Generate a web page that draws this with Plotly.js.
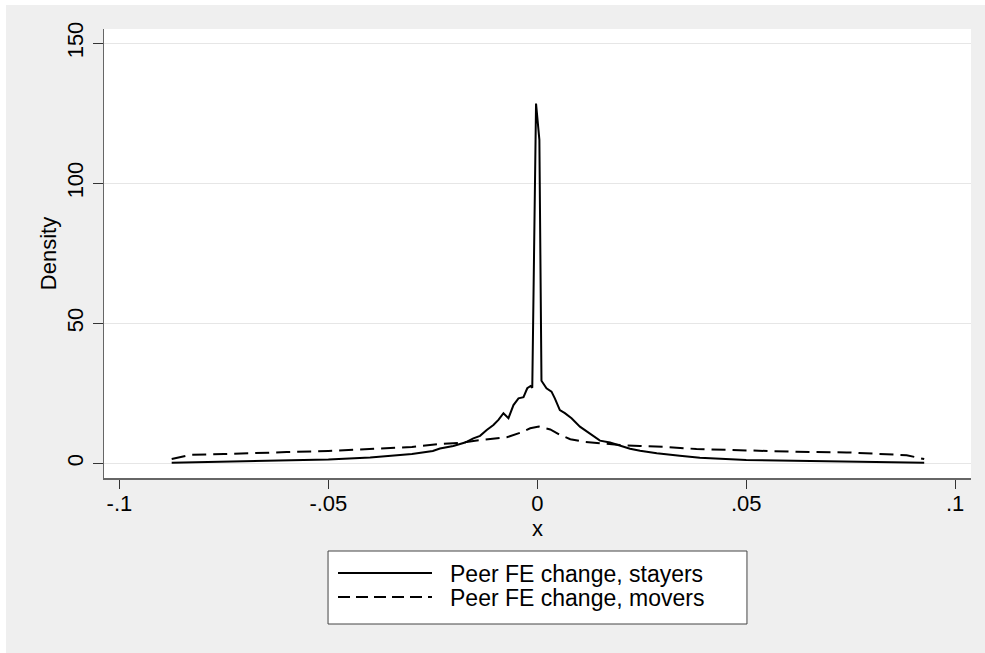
<!DOCTYPE html>
<html>
<head>
<meta charset="utf-8">
<script src="https://cdn.plot.ly/plotly-3.0.1.min.js"></script>
<style>
  html, body { margin: 0; padding: 0; background: #ffffff; }
  #chart { position: absolute; left: 6px; top: 5px; width: 979px; height: 648px; }
</style>
</head>
<body>
<div id="chart"></div>
<script>
// ---- data ----
const stayersX = [-0.0875, -0.08, -0.07, -0.06, -0.05, -0.04, -0.03, -0.025, -0.0233, -0.0201, -0.0173,
  -0.0153, -0.0137, -0.0121, -0.0105, -0.0093, -0.0081, -0.0069, -0.0057, -0.0045, -0.0033, -0.0024,
  -0.0016, -0.0012, -0.0003, 0.0005, 0.0010, 0.0022, 0.0034, 0.0042, 0.0054, 0.0066, 0.0082, 0.0102,
  0.0126, 0.0150, 0.0174, 0.0198, 0.0222, 0.0246, 0.0286, 0.0341, 0.0389, 0.050, 0.062, 0.074, 0.085, 0.0926];
const stayersY = [0.2, 0.4, 0.7, 1.0, 1.4, 2.1, 3.3, 4.4, 5.3, 6.2, 7.4,
  8.9, 9.8, 11.9, 13.7, 15.5, 17.9, 16.1, 20.8, 23.2, 23.6, 26.8,
  27.6, 27.0, 128.5, 115.5, 29.5, 26.8, 25.6, 23.2, 19.0, 17.9, 16.1, 13.1,
  10.7, 8.1, 7.4, 6.2, 5.2, 4.5, 3.6, 2.7, 2.0, 1.2, 0.9, 0.6, 0.4, 0.2];

const moversX = [-0.0875, -0.085, -0.083, -0.075, -0.07, -0.06, -0.05, -0.04, -0.03, -0.0233, -0.0177,
  -0.0153, -0.01, -0.0073, -0.0041, -0.0017, 0.0004, 0.0031, 0.0055, 0.0079, 0.0111, 0.015, 0.0198,
  0.0246, 0.0301, 0.0381, 0.05, 0.062, 0.074, 0.0844, 0.0884, 0.0926];
const moversY = [1.5, 2.4, 3.0, 3.3, 3.6, 4.0, 4.4, 5.1, 5.8, 6.9, 7.4,
  8.0, 8.8, 9.3, 10.9, 12.5, 13.1, 12.1, 10.1, 8.6, 7.7, 7.1, 6.5,
  6.2, 5.9, 5.1, 4.5, 4.1, 3.9, 3.3, 2.9, 1.5];

const xTickVals = [-0.1, -0.05, 0, 0.05, 0.1];
const xTickText = ['-.1', '-.05', '0', '.05', '.1'];
const yTickVals = [0, 50, 100, 150];
const yTickText = ['0', '50', '100', '150'];
const seriesNames = ['Peer FE change, stayers', 'Peer FE change, movers'];
const xTitle = 'x';
const yTitle = 'Density';

// ---- styling ----
const FONT = '"Liberation Sans", Arial, Helvetica, sans-serif';

const traces = [
  { x: stayersX, y: stayersY, type: 'scatter', mode: 'lines', name: seriesNames[0],
    line: { color: '#000000', width: 2 }, showlegend: false },
  { x: moversX, y: moversY, type: 'scatter', mode: 'lines', name: seriesNames[1],
    line: { color: '#000000', width: 2, dash: '14px,7px' }, showlegend: false }
];

// manual Stata-style legend box (paper coordinates)
const legBox = { x0: 0.2584, x1: 0.7416, y0: -0.3252, y1: -0.1626 };
const legRows = [-0.2116, -0.2650];
const legLine = { x0: 0.2699, x1: 0.3783 };
const legTextX = 0.3968;

const shapes = [
  { type: 'rect', xref: 'paper', yref: 'paper', x0: legBox.x0, x1: legBox.x1, y0: legBox.y0, y1: legBox.y1,
    line: { color: '#444444', width: 1 }, fillcolor: '#ffffff', layer: 'above' },
  { type: 'line', xref: 'paper', yref: 'paper', x0: legLine.x0, x1: legLine.x1, y0: legRows[0], y1: legRows[0],
    line: { color: '#000000', width: 2 } },
  { type: 'line', xref: 'paper', yref: 'paper', x0: legLine.x0, x1: legLine.x1, y0: legRows[1], y1: legRows[1],
    line: { color: '#000000', width: 2, dash: '12px,6px' } }
];

const annotations = seriesNames.map((t, i) => ({
  text: t, xref: 'paper', yref: 'paper', x: legTextX, y: legRows[i], xanchor: 'left', yanchor: 'middle',
  showarrow: false, yshift: -1, font: { family: FONT, size: 23, color: '#000000' }
}));

const layout = {
  width: 979, height: 648,
  margin: { l: 98, r: 14, t: 24, b: 175, pad: 0 },
  paper_bgcolor: '#efefef',
  plot_bgcolor: '#ffffff',
  font: { family: FONT, size: 22, color: '#000000' },
  showlegend: false,
  xaxis: {
    range: [-0.1037, 0.1038],
    tickmode: 'array', tickvals: xTickVals, ticktext: xTickText,
    showgrid: false, zeroline: false,
    showline: true, linecolor: '#666666', linewidth: 1.5,
    ticks: 'outside', ticklen: 9, tickwidth: 1.2, tickcolor: '#333333',
    ticklabelstandoff: -4,
    tickfont: { family: FONT, size: 22, color: '#000000' },
    title: { text: xTitle, font: { family: FONT, size: 22, color: '#000000' }, standoff: 0 }
  },
  yaxis: {
    range: [-5.25, 155.1],
    tickmode: 'array', tickvals: yTickVals, ticktext: yTickText,
    tickangle: -90,
    showgrid: true, gridcolor: '#e6e6e6', gridwidth: 1.5,
    zeroline: false,
    showline: true, linecolor: '#666666', linewidth: 1.5,
    ticks: 'outside', ticklen: 10, tickwidth: 1.2, tickcolor: '#333333',
    ticklabelstandoff: 1,
    tickfont: { family: FONT, size: 22, color: '#000000' },
    title: { text: yTitle, font: { family: FONT, size: 22, color: '#000000' }, standoff: 0 }
  },
  shapes: shapes,
  annotations: annotations
};

Plotly.newPlot('chart', traces, layout, { displayModeBar: false, staticPlot: true });
</script>
</body>
</html>
